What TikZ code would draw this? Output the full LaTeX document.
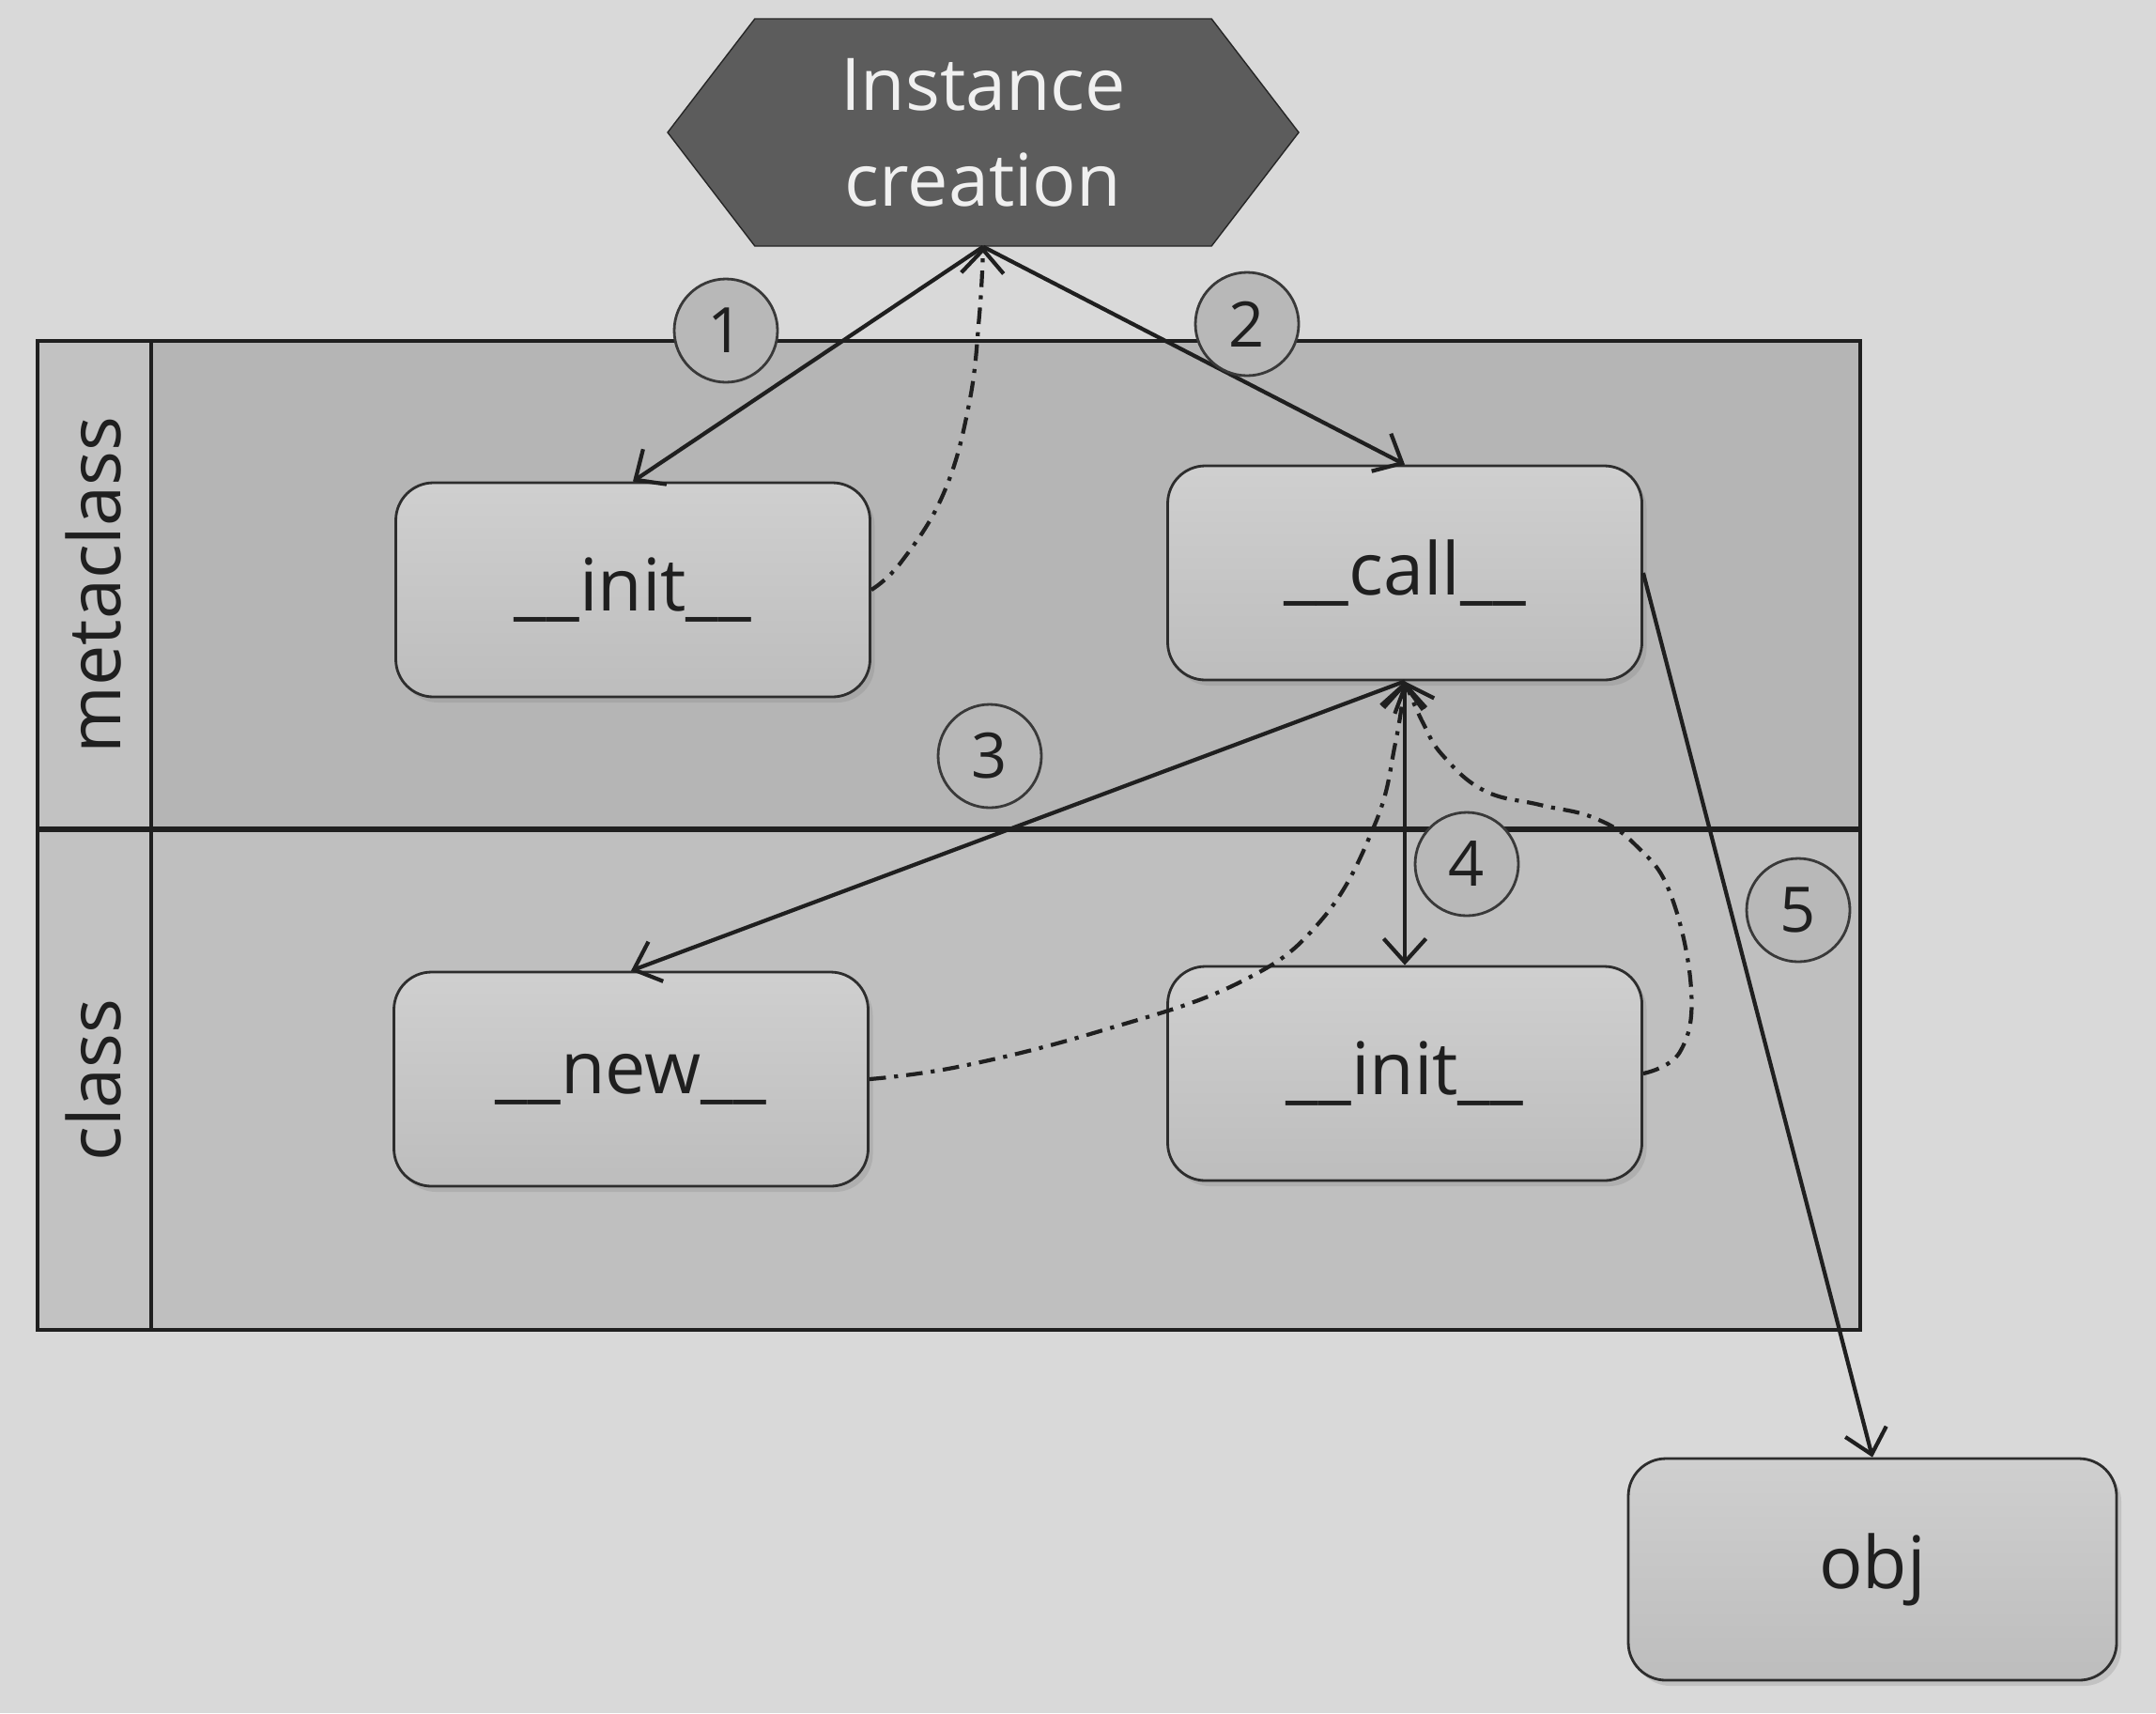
\documentclass[tikz,border=0pt]{standalone}
\usepackage{fontspec}
\setmainfont{Open Sans}
\usetikzlibrary{arrows.meta,shapes.symbols,shadows}

\definecolor{pagebg}{gray}{0.85}
\definecolor{lanemeta}{gray}{0.71}
\definecolor{laneclass}{gray}{0.75}
\definecolor{lanehead}{gray}{0.76}
\definecolor{boxgray}{gray}{0.78}
\definecolor{hexgray}{gray}{0.36}
\definecolor{ballgray}{gray}{0.72}
\definecolor{inkgray}{gray}{0.12}

\begin{document}
\begin{tikzpicture}[
  lane/.style={draw=inkgray, line width=1.1pt},
  method/.style={rectangle, rounded corners=0.4cm, draw=gray!35!black, line width=0.8pt,
    top color=boxgray!85!white, bottom color=boxgray!95!black,
    drop shadow={opacity=0.25, shadow xshift=0.05cm, shadow yshift=-0.06cm},
    minimum width=5.05cm, minimum height=2.28cm, text=inkgray,
    font=\fontsize{22}{26}\selectfont},
  stepball/.style={circle, draw=gray!45!black, line width=0.8pt, fill=ballgray,
    minimum size=1.1cm, inner sep=0pt, text=inkgray, font=\fontsize{19}{22}\selectfont},
  flow/.style={draw=inkgray, line width=1.2pt, -{Straight Barb[length=2.5mm,width=4.5mm]}},
  flowboth/.style={draw=inkgray, line width=1.2pt,
    {Straight Barb[length=2.5mm,width=4.5mm]}-{Straight Barb[length=2.5mm,width=4.5mm]}},
  back/.style={flow, dash pattern=on 5pt off 2.5pt on 1.2pt off 2.5pt}
]
\useasboundingbox (0,0) rectangle (22.96,-18.24);
\fill[pagebg] (0,0) rectangle (22.96,-18.24);

% swimlanes
\draw[lane, fill=lanemeta] (0.40,-3.63) rectangle (19.81,-8.83);
\draw[lane, fill=laneclass] (0.40,-8.83) rectangle (19.81,-14.16);
\draw[lane, fill=lanehead] (0.40,-3.63) rectangle (1.61,-14.16);
\draw[lane, line width=1.6pt] (0.40,-8.83) -- (19.81,-8.83);

\node[rotate=90, text=inkgray, font=\fontsize{22}{26}\selectfont] (metalbl) at (1.0,-6.23) {metaclass};
\node[rotate=90, text=inkgray, font=\fontsize{22}{26}\selectfont] (classlbl) at (1.0,-11.50) {class};

% instance creation
\coordinate (H) at (10.47,-1.41);
\node[signal, signal to=west and east, signal pointer angle=105, fill=hexgray, draw=gray!30!black,
  minimum width=6.72cm, minimum height=2.42cm, inner sep=0pt, align=center, text=gray!12,
  font=\fontsize{22}{29}\selectfont] (hex) at (H) {Instance\\creation};

\coordinate (P1) at (6.74,-6.28);
\node[method] (minit) at (P1) {\_\_init\_\_};
\coordinate (P2) at (14.96,-6.10);
\node[method] (call) at (P2) {\_\_call\_\_};
\coordinate (P3) at (6.72,-11.49);
\node[method] (new) at (P3) {\_\_new\_\_};
\coordinate (P4) at (14.96,-11.43);
\node[method] (cinit) at (P4) {\_\_init\_\_};
\coordinate (P5) at (19.94,-16.71);
\node[method, minimum width=5.2cm, minimum height=2.36cm] (obj) at (P5) {obj};

% calls
\draw[flow] (hex.south) -- (minit.north);
\draw[flow] (hex.south) -- (call.north);
\draw[flow] (call.south) -- (new.north);
\draw[flowboth] (call.south) -- (cinit.north);
\draw[flow] (call.east) -- (obj.north);

% returns
\draw[back] plot[smooth, tension=.7] coordinates {(minit.east) (9.60,-5.98) (10.05,-5.25) (10.32,-4.30) (10.43,-3.35) (hex.south)};
\draw[back] plot[smooth, tension=.7] coordinates {(new.east) (10.25,-11.35) (11.71,-10.98) (13.18,-10.47) (14.06,-9.81) (14.64,-8.78) (14.86,-7.91) (call.south)};
\draw[back] plot[smooth, tension=.7] coordinates {(cinit.east) (17.89,-11.20) (18.01,-10.54) (17.79,-9.52) (17.42,-9.00) (16.98,-8.71) (16.40,-8.57) (15.81,-8.42) (15.37,-8.05) (15.15,-7.69) (call.south)};

% step numbers
\node[stepball] (s1) at (7.73,-3.52) {1};
\node[stepball] (s2) at (13.28,-3.45) {2};
\node[stepball] (s3) at (10.54,-8.05) {3};
\node[stepball] (s4) at (15.62,-9.20) {4};
\node[stepball] (s5) at (19.15,-9.69) {5};
\end{tikzpicture}
\end{document}
